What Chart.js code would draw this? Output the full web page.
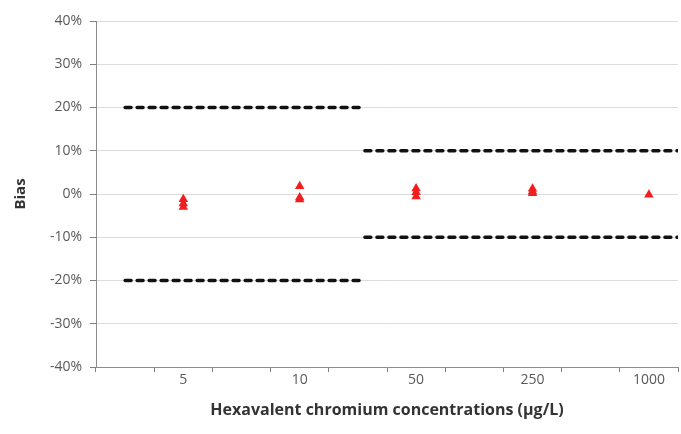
<!DOCTYPE html>
<html>
<head>
<meta charset="utf-8">
<script src="https://cdn.jsdelivr.net/npm/chart.js@4"></script>
<style>
  html, body { margin: 0; padding: 0; background: #fff; }
  #wrap { width: 681px; height: 434px; }
</style>
</head>
<body>
<div id="wrap"><canvas id="bias"></canvas></div>
<script>
// category slots along x, only every other one carries a label
const xLabels = ['', '5', '', '10', '', '50', '', '250', '', '1000'];
const slotOfConc = [1, 3, 5, 7, 9];

// bias (%) per concentration
const biasValues = [
  [-1.2, -2.2, -3.0],
  [1.8, -0.8, -1.3],
  [1.3, 0.4, -0.6],
  [1.2, 0.6, 0.2],
  [-0.2]
];

// acceptance limits (%), x given in slot units (0..10)
const limitLowX = [0.5, 4.62];
const limitLow = 20;
const limitHighX = [4.62, 10];
const limitHigh = 10;

const yTicks = { min: -40, max: 40, step: 10 };

// slot centre on the 0..10 linear axis is slot + 0.5
const points = [];
biasValues.forEach((vals, i) => vals.forEach(v => points.push({ x: slotOfConc[i] + 0.5, y: v })));

const limitSet = (xs, y) => xs.map(x => ({ x, y }));
const dashStyle = {
  type: 'line', xAxisID: 'x2', borderColor: '#111', borderWidth: 3.4,
  borderDash: [6, 6], borderCapStyle: 'round', pointRadius: 0, fill: false
};

const grey = '#595959';
const font = 'Open Sans';

new Chart(document.getElementById('bias'), {
  type: 'scatter',
  data: {
    labels: xLabels,
    datasets: [
      { ...dashStyle, data: limitSet(limitLowX, limitLow) },
      { ...dashStyle, data: limitSet(limitLowX, -limitLow) },
      { ...dashStyle, data: limitSet(limitHighX, limitHigh) },
      { ...dashStyle, data: limitSet(limitHighX, -limitHigh) },
      {
        type: 'scatter', data: points, xAxisID: 'x2',
        pointStyle: 'triangle', pointRadius: 5.5,
        backgroundColor: '#f21d1d', borderColor: '#f21d1d', borderWidth: 0
      }
    ]
  },
  options: {
    responsive: true, maintainAspectRatio: false, animation: false,
    layout: { autoPadding: false, padding: { top: 21, right: 3, left: 8, bottom: 0 } },
    plugins: { legend: { display: false }, tooltip: { enabled: false } },
    scales: {
      x: {
        type: 'category', offset: true,
        afterFit: s => { s.height = 67; s.paddingLeft = 0; s.paddingRight = 0; },
        grid: { offset: true, drawOnChartArea: false, drawTicks: true, tickLength: 5, tickColor: '#7f7f7f' },
        border: { color: '#8c8c8c', width: 1 },
        ticks: { autoSkip: false, maxRotation: 0, color: grey, font: { family: font, size: 14 }, padding: 0 },
        title: { display: true, text: 'Hexavalent chromium concentrations (µg/L)', color: '#333', font: { family: font, size: 16, weight: 'bold' }, padding: { top: 0, bottom: 14 } }
      },
      x2: { type: 'linear', min: 0, max: 10, display: false },
      y: {
        min: yTicks.min, max: yTicks.max,
        afterFit: s => { s.width = 88; },
        grid: { color: '#dcdcdc', tickColor: '#7f7f7f', tickLength: 6 },
        border: { color: '#8c8c8c', width: 1 },
        ticks: { stepSize: yTicks.step, color: grey, font: { family: font, size: 14 }, padding: 8, callback: v => v + '%' },
        title: { display: true, text: 'Bias', color: '#333', font: { family: font, size: 15, weight: 'bold' }, padding: { bottom: 4 } }
      }
    }
  }
});
</script>
</body>
</html>
